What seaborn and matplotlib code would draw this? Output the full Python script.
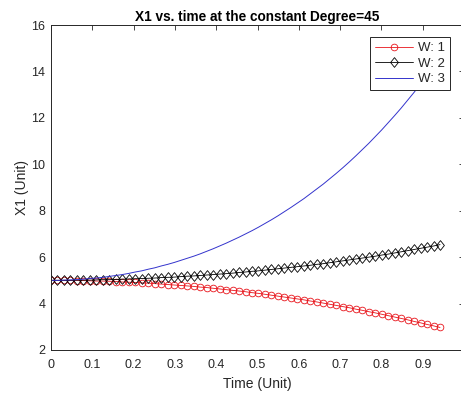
import numpy as np
import pandas as pd
import matplotlib
matplotlib.use("Agg")
import matplotlib.pyplot as plt
import seaborn as sns

# ---- data ----
time = [0.0, 0.0157, 0.0314, 0.0471, 0.0628, 0.0785, 0.0942, 0.1099, 0.1256, 0.1413,
        0.157, 0.1727, 0.1884, 0.2041, 0.2198, 0.2355, 0.2512, 0.2669, 0.2826, 0.2983,
        0.314, 0.3297, 0.3454, 0.3611, 0.3768, 0.3925, 0.4082, 0.4239, 0.4396, 0.4553,
        0.471, 0.4867, 0.5024, 0.5181, 0.5338, 0.5495, 0.5652, 0.5809, 0.5966, 0.6123,
        0.628, 0.6437, 0.6594, 0.6751, 0.6908, 0.7065, 0.7222, 0.7379, 0.7536, 0.7693,
        0.785, 0.8007, 0.8164, 0.8321, 0.8478, 0.8635, 0.8792, 0.8949, 0.9106, 0.9263,
        0.942]

w1 = [5.00, 5.00, 5.00, 5.00, 4.99, 4.99, 4.98, 4.97, 4.97, 4.96,
      4.95, 4.93, 4.92, 4.91, 4.89, 4.88, 4.86, 4.84, 4.82, 4.80,
      4.78, 4.76, 4.74, 4.71, 4.69, 4.66, 4.63, 4.60, 4.57, 4.54,
      4.51, 4.47, 4.44, 4.40, 4.36, 4.32, 4.28, 4.24, 4.20, 4.16,
      4.11, 4.07, 4.02, 3.97, 3.92, 3.87, 3.82, 3.76, 3.71, 3.65,
      3.60, 3.54, 3.48, 3.42, 3.36, 3.30, 3.23, 3.17, 3.10, 3.04,
      2.97]

w2 = [5.00, 5.00, 5.00, 5.00, 5.01, 5.01, 5.01, 5.02, 5.03, 5.03,
      5.04, 5.05, 5.06, 5.07, 5.08, 5.09, 5.10, 5.12, 5.13, 5.14,
      5.16, 5.18, 5.19, 5.21, 5.23, 5.25, 5.27, 5.29, 5.31, 5.34,
      5.36, 5.39, 5.41, 5.44, 5.47, 5.50, 5.53, 5.56, 5.59, 5.62,
      5.65, 5.69, 5.72, 5.76, 5.80, 5.84, 5.88, 5.92, 5.96, 6.00,
      6.04, 6.09, 6.13, 6.18, 6.23, 6.28, 6.33, 6.38, 6.43, 6.48,
      6.54]

w3 = [5.00, 5.00, 5.01, 5.02, 5.03, 5.05, 5.08, 5.10, 5.13, 5.17,
      5.21, 5.25, 5.30, 5.36, 5.41, 5.48, 5.54, 5.62, 5.69, 5.77,
      5.86, 5.95, 6.04, 6.14, 6.25, 6.36, 6.48, 6.60, 6.73, 6.86,
      7.00, 7.14, 7.29, 7.45, 7.61, 7.78, 7.96, 8.14, 8.33, 8.52,
      8.73, 8.94, 9.15, 9.38, 9.61, 9.85, 10.10, 10.36, 10.63, 10.90,
      11.19, 11.48, 11.79, 12.10, 12.42, 12.76, 13.10, 13.46, 13.82, 14.20,
      14.59]

labels = ["W: 1", "W: 2", "W: 3"]
title = "X1 vs. time at the constant Degree=45"
xlabel = "Time (Unit)"
ylabel = "X1 (Unit)"
xticks = [0, 0.1, 0.2, 0.3, 0.4, 0.5, 0.6, 0.7, 0.8, 0.9, 1]
xticklabels = ["0", "0.1", "0.2", "0.3", "0.4", "0.5", "0.6", "0.7", "0.8", "0.9", "1"]
yticks = [2, 4, 6, 8, 10, 12, 14, 16]

df = pd.DataFrame({"time": time, "W: 1": w1, "W: 2": w2, "W: 3": w3})

sns.set_theme(style="white")
plt.rcParams["font.family"] = ["Liberation Sans", "DejaVu Sans"]

fig = plt.figure(figsize=(4.61, 3.94), dpi=100)
ax = fig.add_axes([51 / 461, 44 / 394, 413 / 461, 325 / 394])

grey = "#262626"
diamond = [(-0.8, 0.0), (0.0, 1.0), (0.8, 0.0), (0.0, -1.0), (-0.8, 0.0)]

sns.lineplot(data=df, x="time", y="W: 1", ax=ax, color="#e8141b", lw=0.6,
             marker="o", markersize=4.8, markerfacecolor="none",
             markeredgecolor="#e8141b", markeredgewidth=0.6, label=labels[0])
sns.lineplot(data=df, x="time", y="W: 2", ax=ax, color="black", lw=0.6,
             marker=diamond, markersize=7.0, markerfacecolor="none",
             markeredgecolor="black", markeredgewidth=0.6, label=labels[1])
sns.lineplot(data=df, x="time", y="W: 3", ax=ax, color="#3333cc", lw=0.7,
             label=labels[2])

ax.set_xlim(0, 1)
ax.set_ylim(2, 16)
ax.set_xticks(xticks)
ax.set_xticklabels(xticklabels)
ax.set_yticks(yticks)
ax.tick_params(direction="in", length=3.5, width=0.6, colors=grey,
               labelsize=9, top=True, right=True, labeltop=False, labelright=False)
ax.tick_params(axis="x", pad=6.5)
ax.tick_params(axis="y", pad=4)
for s in ax.spines.values():
    s.set_color(grey)
    s.set_linewidth(0.7)

ax.set_title(title, fontsize=9.8, fontweight="bold", color="black", pad=3)
ax.set_xlabel(xlabel, fontsize=10, color=grey, labelpad=4.5)
ax.set_ylabel(ylabel, fontsize=10, color=grey, labelpad=2)

leg = ax.legend(loc="upper right", bbox_to_anchor=(0.966, 0.962), borderaxespad=0,
                fontsize=9.5, frameon=True, fancybox=False, framealpha=1,
                edgecolor=grey, handlelength=2.9, handletextpad=0.4,
                labelspacing=0.25, borderpad=0.35)
leg.get_frame().set_linewidth(0.7)
for t in leg.get_texts():
    t.set_color(grey)

fig.savefig("out.png", dpi=100)
